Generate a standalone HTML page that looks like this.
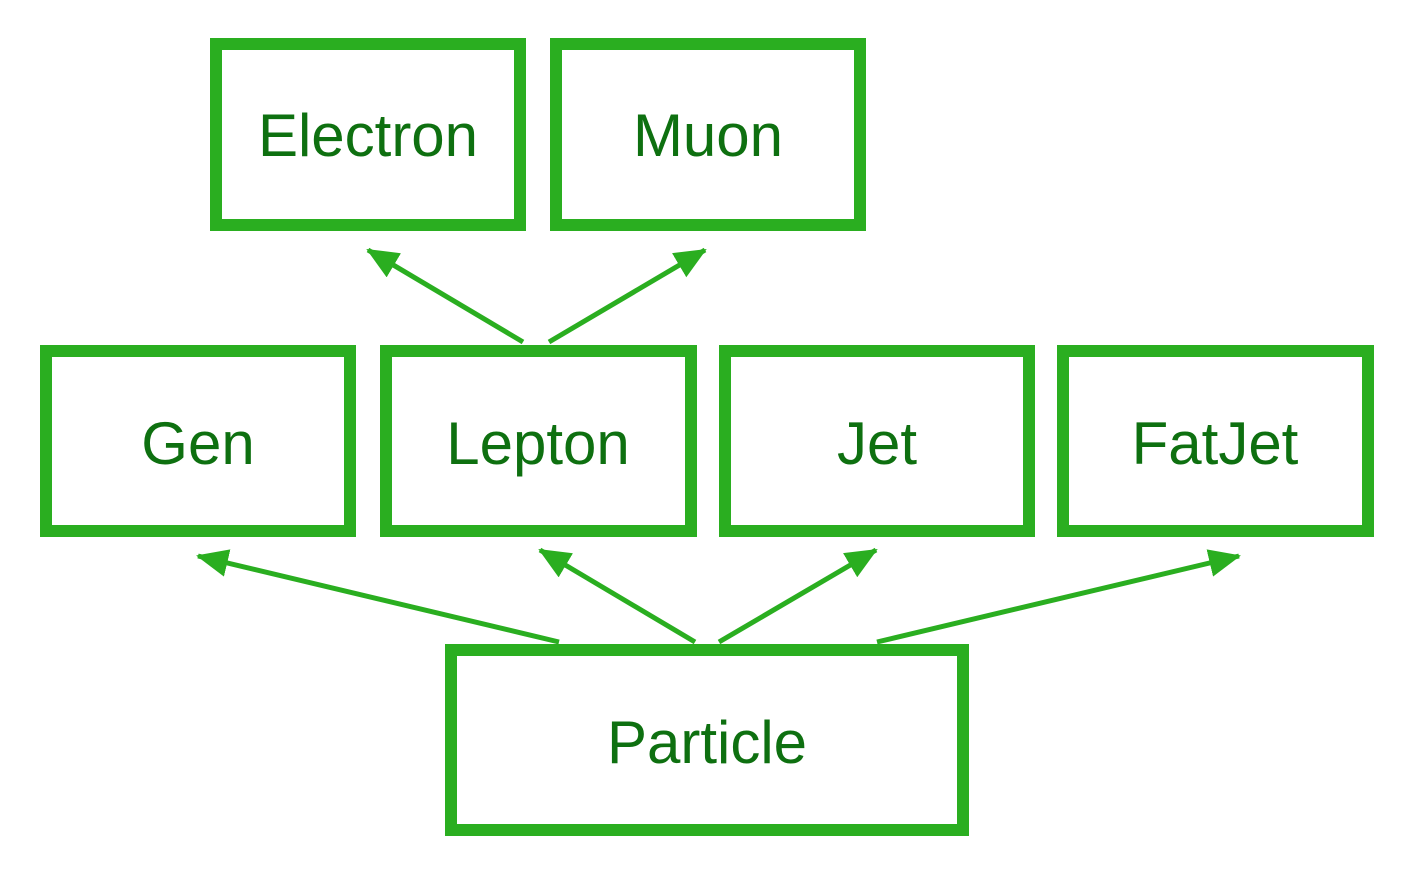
<!DOCTYPE html>
<html><head><style>body{margin:0;background:#fff}</style></head><body>
<svg width="1422" height="870" xmlns="http://www.w3.org/2000/svg">
<defs><marker id="a" markerWidth="32" markerHeight="28" refX="30" refY="14" orient="auto" markerUnits="userSpaceOnUse"><path d="M0,0 L32,14 L0,28 Z" fill="#2aae20"/></marker></defs>
<g fill="none" stroke="#2aae20" stroke-width="12">
<rect x="216" y="44" width="304" height="181"/>
<rect x="556" y="44" width="304" height="181"/>
<rect x="46" y="351" width="304" height="180"/>
<rect x="386" y="351" width="305" height="180"/>
<rect x="725" y="351" width="304" height="180"/>
<rect x="1063" y="351" width="305" height="180"/>
<rect x="451" y="650" width="512" height="180"/>
</g>
<g stroke="#2aae20" stroke-width="5" marker-end="url(#a)">
<line x1="523" y1="342" x2="368" y2="250"/>
<line x1="549" y1="342" x2="705" y2="250"/>
<line x1="559" y1="642" x2="198" y2="556"/>
<line x1="695" y1="642" x2="540" y2="550"/>
<line x1="719" y1="642" x2="876" y2="550"/>
<line x1="877" y1="642" x2="1239" y2="556"/>
</g>
<g fill="#0e7010" font-family="Liberation Sans, sans-serif" font-size="60" text-anchor="middle">
<text x="368" y="156">Electron</text>
<text x="708" y="156">Muon</text>
<text x="198" y="464">Gen</text>
<text x="538" y="464">Lepton</text>
<text x="877" y="464">Jet</text>
<text x="1215" y="464">FatJet</text>
<text x="707" y="763">Particle</text>
</g>
</svg>
</body></html>
